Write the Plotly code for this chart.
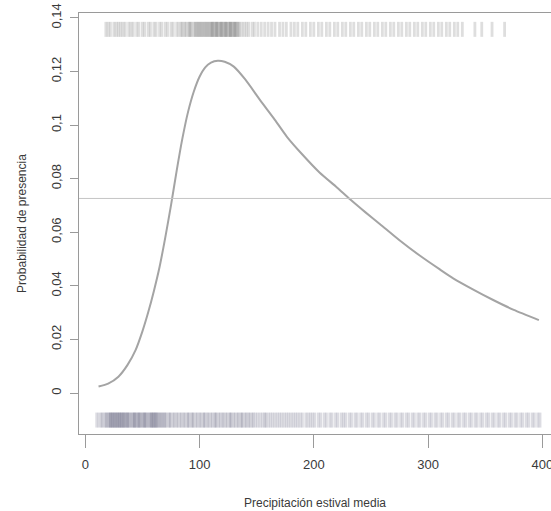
import plotly.graph_objects as go

# Fitted response curve
curve_x = [11.6, 20, 29, 37, 44, 50, 55, 60, 65, 70, 75, 80, 85, 90, 95, 100, 105, 110,
           116, 122, 130, 140, 153, 165, 176.5, 190, 205, 220, 232, 245, 258, 275, 293,
           310, 322, 340, 357, 375, 397]
curve_y = [0.0024, 0.0035, 0.0061, 0.0105, 0.016, 0.023, 0.030, 0.038, 0.047, 0.058,
           0.070, 0.083, 0.095, 0.105, 0.1125, 0.118, 0.1215, 0.1233, 0.124, 0.1236,
           0.1218, 0.117, 0.1093, 0.1025, 0.0956, 0.089, 0.0823, 0.0768, 0.0722, 0.0675,
           0.0630, 0.0570, 0.0512, 0.0462, 0.0428, 0.0385, 0.0347, 0.031, 0.0272]

threshold = 0.0726

# Rug of all sites (bottom)
rug_all = [10, 12, 14, 15, 17, 18, 19, 20,
           21, 22, 22, 23, 24, 24, 25, 26, 26, 27, 28, 28, 29, 30, 30, 31, 32, 32, 33, 34, 34,
           35, 36, 37, 37, 38, 39, 40,
           41, 42, 43, 43, 44, 45, 46, 47, 47, 48, 49, 50, 51, 52, 52, 53, 54, 55, 56, 57, 58,
           58, 59, 60, 60, 61, 62, 62, 63, 64, 65, 66, 67, 68,
           69, 70, 71, 73, 74, 75, 77, 78, 80, 81, 83, 84, 86, 87, 89,
           90, 91, 93, 94, 95, 97, 98, 100, 101, 103, 104, 105, 107, 108, 110, 111, 113, 114,
           115, 117, 118, 120, 121, 123, 124, 126, 127, 128, 130, 131, 133, 134, 136, 137, 138,
           140, 141, 143, 144, 146, 147, 149,
           151, 153, 155, 157, 158, 160, 162, 164, 166, 168, 170, 172, 174, 176, 178, 180, 182,
           184, 186, 188, 190, 193, 195, 197, 199,
           201, 204, 206, 209, 211, 214, 216, 219, 221, 224, 226, 228, 231, 233, 236, 238, 241,
           243, 246, 248, 251, 253, 256, 258, 261, 263, 266, 268, 271, 273, 276, 278, 281, 283,
           286, 288, 291, 293, 296, 298, 301, 303, 306, 308, 311, 313, 316, 318, 321, 323, 326,
           328, 331, 333, 336, 338, 341, 343, 346, 348, 351, 353, 356, 358, 361, 363, 366, 368,
           371, 373, 376, 378, 381, 383, 386, 388, 391, 393, 396, 398]

# Rug of presences (top)
rug_pres = [18, 20, 22, 25, 27, 29, 31, 33, 35, 38, 40, 42, 45, 47, 50, 52, 55, 57, 60, 62,
            65, 67, 70, 72, 75, 77, 80, 82, 84, 85, 87, 88, 90, 91, 92, 93, 95, 96, 97, 98, 99,
            100, 101, 102, 103, 104, 105, 106, 107, 108, 109, 110, 111, 111, 112, 113, 114,
            115, 115, 116, 117, 118, 119, 119, 120, 121, 122, 123, 123, 124, 125, 126, 127,
            127, 128, 129, 130, 131, 131, 132, 133, 134, 135, 137, 139, 141, 143, 146, 148,
            151, 154, 157, 160, 163, 166, 170, 173, 176, 180, 183, 186, 190, 193, 197, 200,
            204, 207, 211, 214, 218, 221, 225, 228, 232, 235, 239, 242, 246, 249, 253, 256,
            260, 263, 267, 270, 274, 277, 281, 284, 288, 291, 295, 298, 302, 305, 309, 312,
            316, 319, 323, 326, 330, 341, 347, 356, 367]

y_tickvals = [0, 0.02, 0.04, 0.06, 0.08, 0.1, 0.12, 0.14]
y_ticktext = ["0", "0,02", "0,04", "0,06", "0,08", "0,1", "0,12", "0,14"]
x_tickvals = [0, 100, 200, 300, 400]

fig = go.Figure()

fig.add_trace(go.Scatter(
    x=rug_all, y=[-0.0101] * len(rug_all), mode="markers",
    marker=dict(symbol="line-ns", size=10.7, line=dict(width=2.8, color="rgba(80,80,110,0.2)")),
    hoverinfo="skip", showlegend=False))

fig.add_trace(go.Scatter(
    x=rug_pres, y=[0.1357] * len(rug_pres), mode="markers",
    marker=dict(symbol="line-ns", size=10.7, line=dict(width=2.8, color="rgba(70,70,70,0.18)")),
    hoverinfo="skip", showlegend=False))

fig.add_hline(y=threshold, line=dict(color="#c4c4c4", width=1))

fig.add_trace(go.Scatter(
    x=curve_x, y=curve_y, mode="lines",
    line=dict(color="#a4a4a4", width=2, shape="spline", smoothing=0.6),
    hoverinfo="skip", showlegend=False))

font_family = "Liberation Sans, Arial, sans-serif"

fig.update_layout(
    width=551, height=511,
    margin=dict(l=79, r=0, t=13, b=77),
    paper_bgcolor="white", plot_bgcolor="white",
    font=dict(family=font_family, color="#3a3a3a", size=12),
    showlegend=False,
    xaxis=dict(
        range=[-5.5, 407.6], tickvals=x_tickvals, ticks="outside", ticklen=13,
        tickcolor="#9a9a9a", showgrid=False, zeroline=False, showline=True,
        linecolor="#9a9a9a", linewidth=1, mirror=True, ticklabeloverflow="allow",
        automargin=False, tickfont=dict(size=13), ticklabelstandoff=5,
        title=dict(text="Precipitación estival media", standoff=28, font=dict(size=12)),
    ),
    yaxis=dict(
        range=[-0.0153, 0.1418], tickvals=y_tickvals, ticktext=y_ticktext,
        ticks="outside", ticklen=8, tickcolor="#9a9a9a", tickangle=-90,
        showgrid=False, zeroline=False, showline=True, linecolor="#9a9a9a", linewidth=1,
        mirror=False, automargin=False, tickfont=dict(size=13), ticklabelstandoff=4,
        ticklabeloverflow="allow",
        title=dict(text="Probabilidad de presencia", standoff=19, font=dict(size=12)),
    ),
)

# Remove the default page margin so the figure sits at the window's top-left corner.
fig.write_html("out.html", config={"displayModeBar": False},
               post_script="document.body.style.margin = '0';")
